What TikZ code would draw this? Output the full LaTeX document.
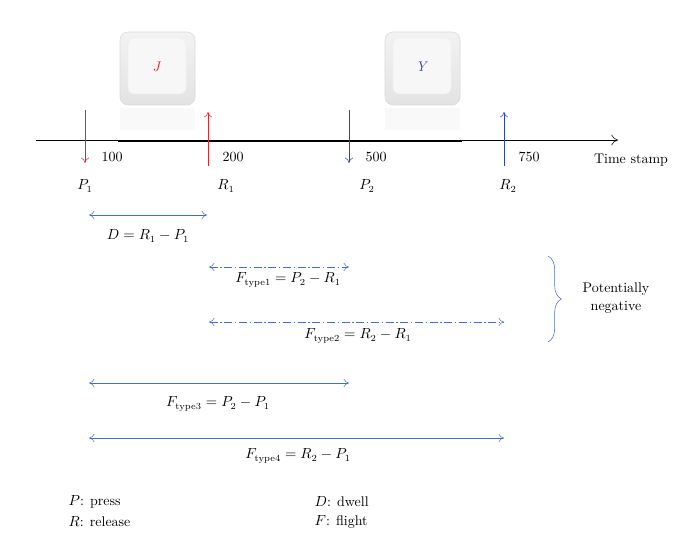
\documentclass[tikz,border=0pt]{standalone}
\usetikzlibrary{arrows.meta,decorations.pathreplacing}
\definecolor{kr}{RGB}{230,35,40}
\definecolor{kb}{RGB}{45,65,190}
\definecolor{rb}{RGB}{70,110,200}
\begin{document}
\begin{tikzpicture}[x=0.75pt,y=-0.75pt,font=\fontsize{10.5}{12}\selectfont,
  kred/.style={draw=kr,-{To[length=4pt,width=6pt]}},
  kblue/.style={draw=kb,-{To[length=4pt,width=6pt]}},
  rng/.style={draw=rb,{To[length=4pt,width=6pt]}-{To[length=4pt,width=6pt]}},
  rngd/.style={rng,dash pattern=on 6pt off 2pt on 1pt off 2pt},
  lbl/.style={inner sep=1pt},
  key/.style={rounded corners=6pt,draw=gray!30,top color=gray!10,bottom color=gray!22},
  keyin/.style={rounded corners=5pt,draw=gray!12,fill=gray!6}]
\useasboundingbox (0,0) rectangle (689,542);
% keys
\foreach \x/\n/\c/\k in {120/kj/kr/J,385/ky/kb/Y}{
  \fill[gray!5] (\x,108) rectangle +(75,22);
  \draw[key] (\x,32) rectangle +(75,73);
  \draw[keyin] (\x+8,38) rectangle +(58,56);
  \node[text=\c] (\n) at (\x+37,67) {\textit{\k}};
}
% axis
\coordinate (a0) at (36,140); \coordinate (a1) at (618,140);
\draw[-{To[length=5pt,width=8pt]}] (a0) -- (a1);
\draw[line width=1.6pt] (118,141) -- (462,141);
% key arrows
\coordinate (p1t) at (85,110); \coordinate (p1b) at (85,163);
\coordinate (r1b) at (208,166); \coordinate (r1t) at (208,112);
\coordinate (p2t) at (349,110); \coordinate (p2b) at (349,163);
\coordinate (r2b) at (504,166); \coordinate (r2t) at (504,112);
\draw[kred] (p1t) -- (p1b);
\draw[kred] (r1b) -- (r1t);
\draw[kblue] (p2t) -- (p2b);
\draw[kblue] (r2b) -- (r2t);
\node[lbl] (t1) at (112,157) {100};
\node[lbl] (t2) at (233,157) {200};
\node[lbl] (t3) at (376,157) {500};
\node[lbl] (t4) at (529,157) {750};
\node[lbl] (ts) at (631,160) {Time stamp};
\node[lbl] (P1) at (85,186) {$P_1$};
\node[lbl] (R1) at (226,186) {$R_1$};
\node[lbl] (P2) at (367,186) {$P_2$};
\node[lbl] (R2) at (508,186) {$R_2$};
% ranges
\coordinate (d0) at (89,215); \coordinate (d1) at (207,215);
\draw[rng] (d0) -- (d1);
\node[lbl] (dl) at (148,236) {$D = R_1 - P_1$};
\coordinate (f10) at (209,267); \coordinate (f11) at (349,267);
\draw[rngd] (f10) -- (f11);
\node[lbl] (f1l) at (288,280) {$F_{\mathrm{type1}} = P_2 - R_1$};
\coordinate (f20) at (209,322); \coordinate (f21) at (504,322);
\draw[rngd] (f20) -- (f21);
\node[lbl] (f2l) at (358,336) {$F_{\mathrm{type2}} = R_2 - R_1$};
\coordinate (f30) at (89,383); \coordinate (f31) at (349,383);
\draw[rng] (f30) -- (f31);
\node[lbl] (f3l) at (218,404) {$F_{\mathrm{type3}} = P_2 - P_1$};
\coordinate (f40) at (89,438); \coordinate (f41) at (504,438);
\draw[rng] (f40) -- (f41);
\node[lbl] (f4l) at (298,456) {$F_{\mathrm{type4}} = R_2 - P_1$};
% brace
\coordinate (b0) at (548,256); \coordinate (b1) at (548,342);
\draw[draw=rb,decorate,decoration={brace,amplitude=10pt}] (b0) -- (b1);
\node[lbl,align=center] (pn) at (616,298) {Potentially\\[2pt]negative};
% legend
\node[lbl,anchor=west] (lp) at (67,502) {$P$: press};
\node[lbl,anchor=west] (lr) at (67,522) {$R$: release};
\node[lbl,anchor=west] (ld) at (313,502) {$D$: dwell};
\node[lbl,anchor=west] (lf) at (313,522) {$F$: flight};
\end{tikzpicture}
\end{document}
